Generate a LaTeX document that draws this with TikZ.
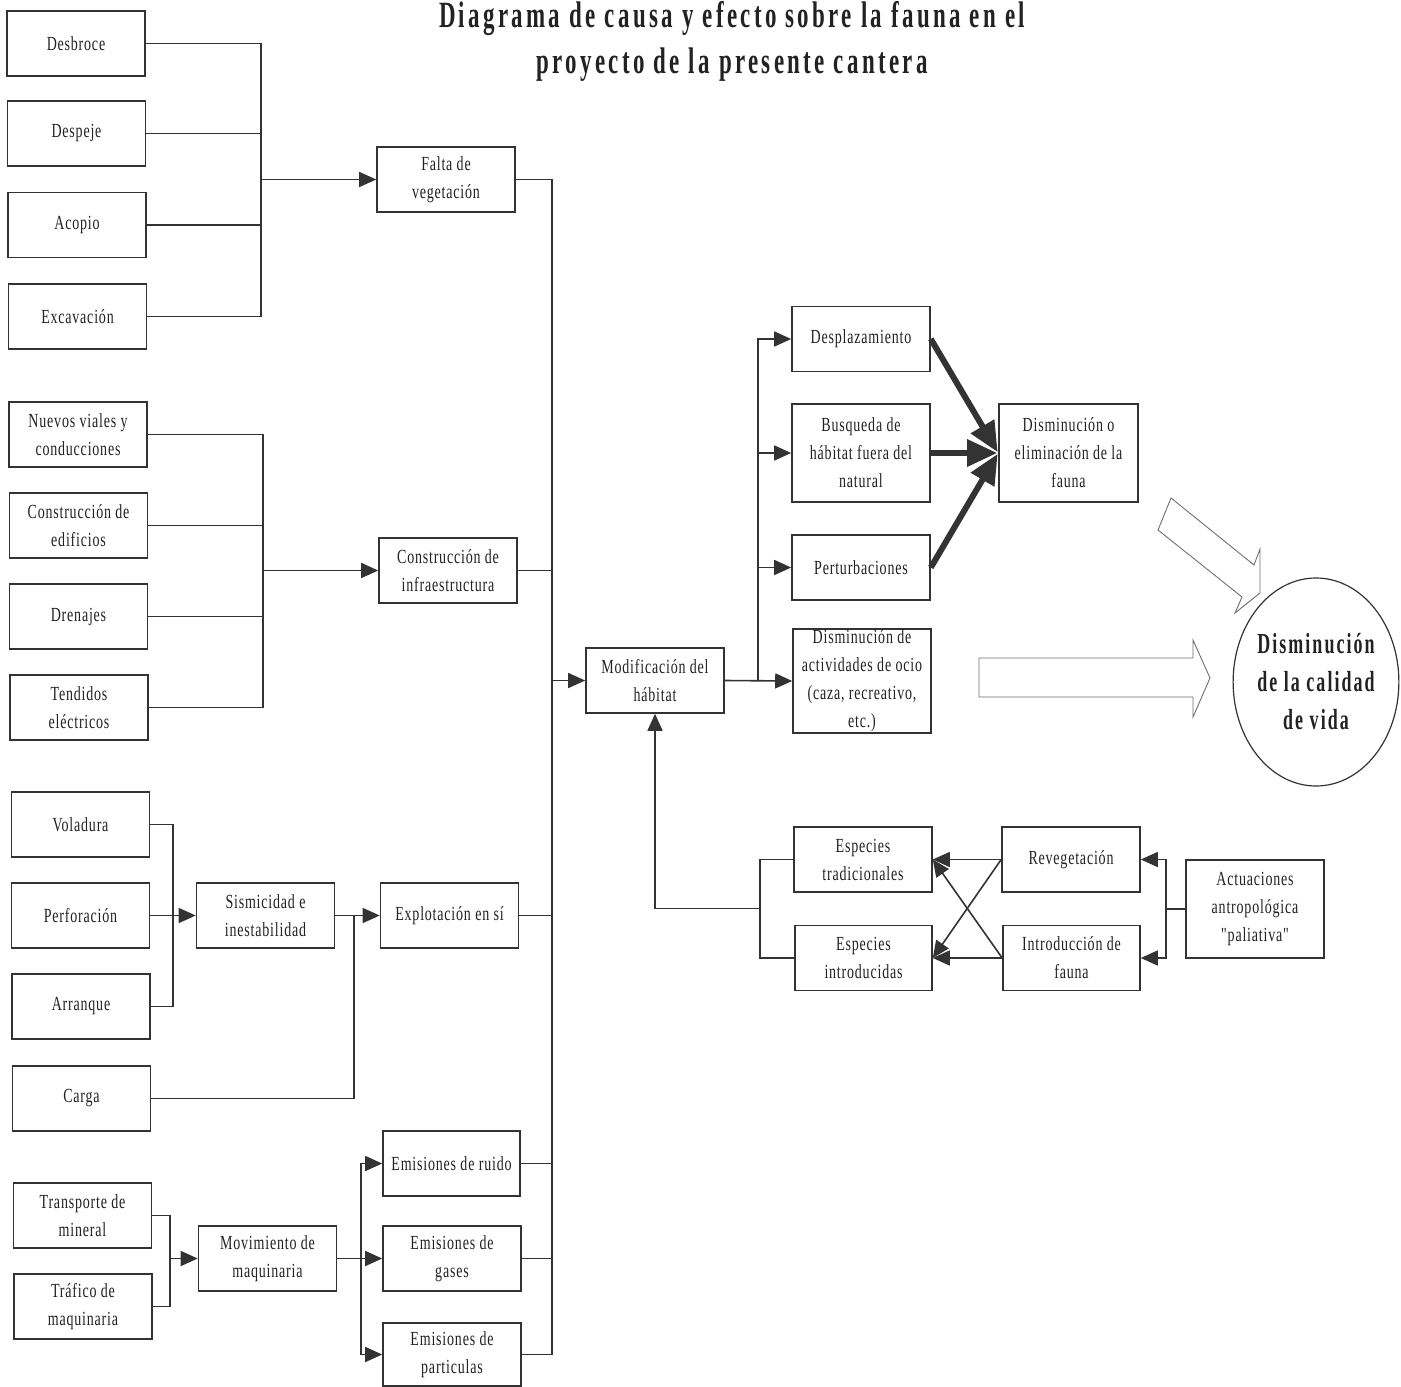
\documentclass[tikz,border=0pt]{standalone}
\usepackage{fontspec}
\usetikzlibrary{arrows.meta,shapes.geometric}
\newfontfamily\bxfont[FakeStretch=0.7,LetterSpace=4]{Liberation Serif}
\newfontfamily\ttlfont[FakeStretch=0.62,LetterSpace=9]{Liberation Serif}
\newfontfamily\elfont[FakeStretch=0.62,LetterSpace=7]{Liberation Serif}
\definecolor{ink}{HTML}{333333}
\definecolor{txt}{HTML}{222222}
\tikzset{
  box/.style={draw=ink, line width=1.6pt, minimum width=138pt, minimum height=65pt,
    inner sep=0pt, align=center, text=txt, font=\bxfont\fontsize{20}{28}\selectfont},
  tallbox/.style={box, minimum height=98pt},
  conn/.style={draw=ink, line width=1.6pt},
  arr/.style={conn, -{Triangle[length=17pt,width=15pt]}},
  thickarr/.style={draw=ink, line width=6pt, -{Triangle[length=30pt,width=26pt]}, shorten >=1pt},
  blockarr/.style={draw=ink!70, line width=0.9pt, line join=miter},
  ttl/.style={anchor=base, text=txt, font=\ttlfont\bfseries\fontsize{37}{50}\selectfont, inner sep=0pt},
}
\begin{document}
\begin{tikzpicture}[x=1pt,y=-1pt]
\useasboundingbox (0,0) rectangle (1401,1387);
\fill[white] (0,0) rectangle (1401,1387);

% title
\node[ttl] (t1) at (732,27) {Diagrama de causa y efecto sobre la fauna en el};
\node[ttl] (t2) at (732,73) {proyecto de la presente cantera};

% group 1
\node[box] (desb) at (76,43.5) {Desbroce};
\node[box] (desp) at (76.5,133.5) {Despeje};
\node[box] (acop) at (77,225) {Acopio};
\node[box] (exca) at (77.5,316.5) {Excavación};
\node[box] (falta) at (446,179.5) {Falta de\\vegetación};
\coordinate (g1) at (261,179.5);
\draw[conn] (desb.east) -| (g1);
\draw[conn] (desp.east) -| (g1);
\draw[conn] (acop.east) -| (g1);
\draw[conn] (exca.east) -| (g1);
\draw[arr] (g1) -- (falta.west);

% group 2
\node[box] (nuev) at (78,434.5) {Nuevos viales y\\conducciones};
\node[box] (cons) at (78.5,525.5) {Construcción de\\edificios};
\node[box] (dren) at (78.5,616.5) {Drenajes};
\node[box] (tend) at (79,707.5) {Tendidos\\eléctricos};
\node[box] (infra) at (448,570.5) {Construcción de\\infraestructura};
\coordinate (g2) at (263,570.5);
\draw[conn] (nuev.east) -| (g2);
\draw[conn] (cons.east) -| (g2);
\draw[conn] (dren.east) -| (g2);
\draw[conn] (tend.east) -| (g2);
\draw[arr] (g2) -- (infra.west);

% group 3
\node[box] (volad) at (80.5,824.5) {Voladura};
\node[box] (perf) at (80.5,915.5) {Perforación};
\node[box] (arran) at (81,1006.5) {Arranque};
\node[box] (carga) at (81.5,1098.5) {Carga};
\node[box] (sism) at (265.5,915.5) {Sismicidad e\\inestabilidad};
\node[box] (explo) at (449.5,915.5) {Explotación en sí};
\coordinate (g3) at (173,915.5);
\coordinate (cj) at (354,915.5);
\draw[conn] (volad.east) -| (g3);
\draw[conn] (arran.east) -| (g3);
\draw[arr] (perf.east) -- (sism.west);
\draw[conn] (carga.east) -| (cj);
\draw[arr] (sism.east) -- (explo.west);

% group 4
\node[box] (transp) at (82.5,1215.5) {Transporte de\\mineral};
\node[box] (trafic) at (83,1306.5) {Tráfico de\\maquinaria};
\node[box] (movim) at (267.5,1258.5) {Movimiento de\\maquinaria};
\node[box, minimum width=137pt] (ruido) at (451.5,1163.5) {Emisiones de ruido};
\node[box] (gases) at (452,1258.5) {Emisiones de\\gases};
\node[box, minimum height=63pt] (partic) at (452,1354.5) {Emisiones de\\particulas};
\coordinate (g4) at (170,1258.5);
\coordinate (mj) at (361,1258.5);
\draw[conn] (transp.east) -| (g4);
\draw[conn] (trafic.east) -| (g4);
\draw[arr] (g4) -- (movim.west);
\draw[arr] (movim.east) -- (gases.west);
\draw[arr] (mj) |- (ruido.west);
\draw[arr] (mj) |- (partic.west);

% main trunk
\node[box] (modif) at (655,680.5) {Modificación del\\hábitat};
\coordinate (mvb) at (552,1354.5);
\draw[conn] (falta.east) -| (mvb);
\draw[conn] (infra.east) -- (infra.east -| mvb);
\draw[conn] (explo.east) -- (explo.east -| mvb);
\draw[conn] (ruido.east) -- (ruido.east -| mvb);
\draw[conn] (gases.east) -- (gases.east -| mvb);
\draw[conn] (partic.east) -- (mvb);
\draw[arr] (modif.west -| mvb) -- (modif.west);

% right branch
\node[box] (despl) at (861,339) {Desplazamiento};
\node[tallbox] (busq) at (861,453) {Busqueda de\\hábitat fuera del\\natural};
\node[box] (pert) at (861,567.5) {Perturbaciones};
\node[box, minimum height=104pt] (ocio) at (862,681) {Disminución de\\actividades de ocio\\(caza, recreativo,\\etc.)};
\node[tallbox, minimum width=139pt] (fauna) at (1068.5,453) {Disminución o\\eliminación de la\\fauna};
\coordinate (rj) at (758,681);
\draw[arr] (modif.east) -- (ocio.west);
\draw[arr] (rj) |- (despl.west);
\draw[arr] (rj) |- (busq.west);
\draw[arr] (rj) |- (pert.west);
\draw[thickarr] (despl.east) -- (fauna.west);
\draw[thickarr] (busq.east) -- (fauna.west);
\draw[thickarr] (pert.east) -- (fauna.west);

% quality of life
\node[draw=ink, line width=1.2pt, ellipse, minimum width=140pt, minimum height=208pt, inner sep=0pt,
  align=center, text=txt, font=\elfont\bfseries\fontsize{29}{38}\selectfont] (vida) at (1316,682)
  {Disminución\\de la calidad\\de vida};
\draw[blockarr] (1171,498) -- (1254,565) -- (1260,549) -- (1260,593) -- (1235,613) -- (1242,597) -- (1158,530) -- cycle;
\draw[blockarr] (979,658) -- (1193,658) -- (1193,640) -- (1210,678) -- (1193,717) -- (1193,697) -- (979,697) -- cycle;

% bottom right
\node[box] (esptr) at (863,859.5) {Especies\\tradicionales};
\node[box, minimum width=137pt] (espin) at (863.5,958) {Especies\\introducidas};
\node[box] (reveg) at (1071,859.5) {Revegetación};
\node[box, minimum width=137pt] (intro) at (1071.5,958) {Introducción de\\fauna};
\node[tallbox] (actu) at (1255,909) {Actuaciones\\antropológica\\"paliativa"};
\coordinate (ej) at (760,908.5);
\coordinate (aj) at (1166,909);
\draw[conn] (esptr.west) -| (ej);
\draw[conn] (espin.west) -| (ej);
\draw[arr] (ej) -| (modif.south);
\draw[conn] (actu.west) -- (aj);
\draw[arr] (aj) |- (reveg.east);
\draw[arr] (aj) |- (intro.east);
\draw[arr] (reveg.west) -- (esptr.east);
\draw[arr] (intro.west) -- (espin.east);
\draw[arr] (reveg.west) -- (espin.east);
\draw[arr] (intro.west) -- (esptr.east);
\end{tikzpicture}
\end{document}
